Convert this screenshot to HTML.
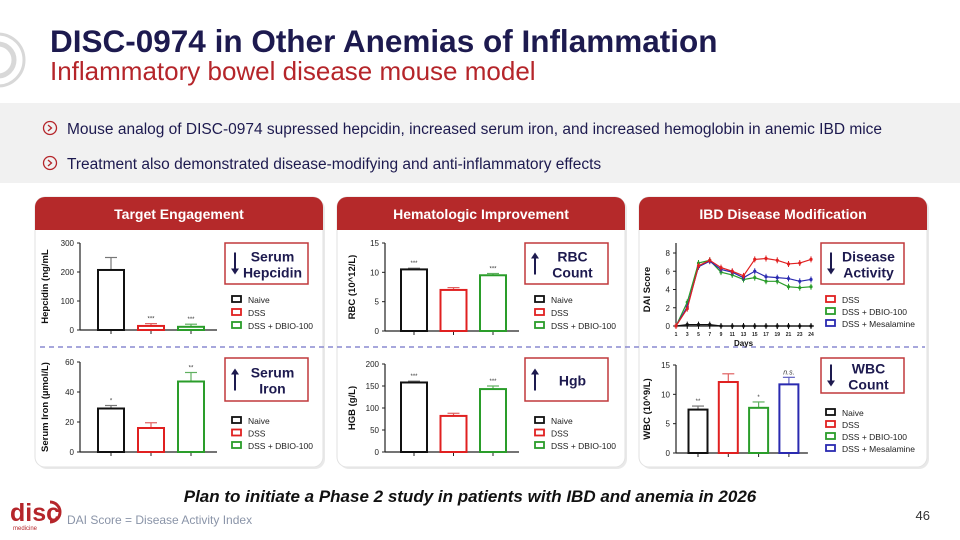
<!DOCTYPE html>
<html><head><meta charset="utf-8"><style>
html,body{margin:0;padding:0;background:#fff;}
svg{display:block;font-family:"Liberation Sans",Arial,sans-serif;}
</style></head><body>
<svg id="s" width="960" height="540" viewBox="0 0 960 540">
<g fill="none" stroke="#d8d8d8">
<circle cx="-2" cy="60" r="26" stroke-width="3"/><circle cx="-2" cy="60" r="16" stroke-width="5"/>
</g>
<text x="50" y="52" font-size="31.5" font-weight="bold" fill="#1d1a4f">DISC-0974 in Other Anemias of Inflammation</text>
<text x="50" y="80" font-size="26" fill="#b5252a">Inflammatory bowel disease mouse model</text>
<rect x="0" y="103" width="960" height="80" fill="#f1f1f1"/>
<g>
<circle cx="50" cy="128" r="6.5" fill="none" stroke="#b5252a" stroke-width="1.3"/><path d="M48 125 L51.5 128 L48 131" fill="none" stroke="#b5252a" stroke-width="1.3"/>
<text x="67" y="134" font-size="15.5" fill="#1d1a4f">Mouse analog of DISC-0974 supressed hepcidin, increased serum iron, and increased hemoglobin in anemic IBD mice</text></g>
<g>
<circle cx="50" cy="163" r="6.5" fill="none" stroke="#b5252a" stroke-width="1.3"/><path d="M48 160 L51.5 163 L48 166" fill="none" stroke="#b5252a" stroke-width="1.3"/>
<text x="67" y="169" font-size="15.5" fill="#1d1a4f">Treatment also demonstrated disease-modifying and anti-inflammatory effects</text></g>
<g id="cards"></g>
<g id="charts"></g>
<text x="470" y="502" font-size="17" font-weight="bold" font-style="italic" text-anchor="middle" fill="#111">Plan to initiate a Phase 2 study in patients with IBD and anemia in 2026</text>
<g>
<text x="10" y="521" font-size="25" font-weight="bold" fill="#b5252a">disc</text>
<path d="M50 502 A10 10 0 0 1 50 522" fill="none" stroke="#b5252a" stroke-width="3"/>
<text x="13" y="530" font-size="6" fill="#b5252a">medicine</text></g>
<text x="67" y="524" font-size="12" fill="#8a94a8">DAI Score = Disease Activity Index</text>
<text x="930" y="520" font-size="13" fill="#333" text-anchor="end">46</text>
</svg>
<script>
const NS="http://www.w3.org/2000/svg";
function mk(p,t,a,txt){const e=document.createElementNS(NS,t);for(const k in a)e.setAttribute(k,a[k]);if(txt!==undefined)e.textContent=txt;p.appendChild(e);return e;}
const cards=document.getElementById('cards'),charts=document.getElementById('charts');
const cardTitles=["Target Engagement","Hematologic Improvement","IBD Disease Modification"];
const cardX=[35,337,639];
// data arrays
const groups3=["Naive","DSS","DSS + DBIO-100"];
const groups4=["Naive","DSS","DSS + DBIO-100","DSS + Mesalamine"];
const hepcidin=[207,14,11], hepcidinErr=[250,22,20], hepcidinTicks=[0,100,200,300], hepcidinSig=["","***","***"];
const iron=[29,16,47], ironErr=[31,19.5,53], ironTicks=[0,20,40,60], ironSig=["*","","**"];
const rbc=[10.5,7.0,9.5], rbcErr=[10.7,7.4,9.8], rbcTicks=[0,5,10,15], rbcSig=["***","","***"];
const hgb=[158,82,143], hgbErr=[161,88,150], hgbTicks=[0,50,100,150,200], hgbSig=["***","","***"];
const wbc=[7.4,12.1,7.7,11.7], wbcErr=[8.0,13.5,8.7,12.9], wbcTicks=[0,5,10,15], wbcSig=["**","","*","n.s."];
const days=["1","3","5","7","9","11","13","15","17","19","21","23","24"];
const daiDSS=[0,1.9,6.6,7.2,6.4,6.0,5.5,7.3,7.4,7.2,6.8,6.9,7.3];
const daiDBIO=[0,2.6,6.9,7.2,5.9,5.6,5.1,5.3,4.9,4.9,4.3,4.2,4.3];
const daiMes=[0,2.1,6.5,7.1,6.2,5.9,5.3,6.0,5.4,5.3,5.2,4.9,5.1];
const daiNaive=[0,0.15,0.15,0.15,0,0,0,0,0,0,0,0,0];
const daiTicks=[0,2,4,6,8];
const colors=["#111","#e02020","#2a9d2a","#2a2ab0"];
const errColors=["#777","#e06060","#60b060","#6060c0"];

cardX.forEach((x,i)=>{
  const g=mk(cards,'g',{});
  mk(g,'rect',{x:x+2,y:199,width:288,height:270,rx:10,fill:'#e9e9e9'});
  mk(g,'rect',{x:x,y:197,width:288,height:270,rx:10,fill:'#fff',stroke:'#e2e2e2'});
  mk(g,'path',{d:`M${x} 230 V207 A10 10 0 0 1 ${x+10} 197 H${x+278} A10 10 0 0 1 ${x+288} 207 V230 Z`,fill:'#b5292a'});
  const t=mk(g,'text',{x:x+144,y:219,'font-size':14,'font-weight':'bold',fill:'#fff','text-anchor':'middle'},cardTitles[i]);
  
});
const dl=mk(charts,'line',{x1:40,x2:925,y1:347,y2:347,stroke:'#8a8ad0','stroke-width':1.5,'stroke-dasharray':'5 4'});


function yAxis(g,ax,y0,y1,ticks,title,tx,axTop){
  const max=ticks[ticks.length-1];const ys=v=>y0-(v/max)*(y0-y1);
  mk(g,'line',{x1:ax,x2:ax,y1:axTop!==undefined?axTop:y1,y2:y0,stroke:'#222','stroke-width':1.2});
  ticks.forEach(t=>{mk(g,'line',{x1:ax-3,x2:ax,y1:ys(t),y2:ys(t),stroke:'#222'});
    mk(g,'text',{x:ax-6,y:ys(t)+3,'font-size':8,'text-anchor':'end',fill:'#222'},t);});
  const tt=mk(g,'text',{x:tx,y:(y0+y1)/2,'font-size':9.5,'font-weight':'bold','text-anchor':'middle',fill:'#111',transform:`rotate(-90 ${tx} ${(y0+y1)/2})`},title);
  
  return ys;
}
function barChart(name,ax,y0,y1,ticks,vals,errs,sig,title,tx,first,step,bw){
  const g=mk(charts,'g',{});
  const ys=yAxis(g,ax,y0,y1,ticks,title,tx);
  mk(g,'line',{x1:ax,x2:first+step*(vals.length-1)+bw,y1:y0,y2:y0,stroke:'#222','stroke-width':1.2});
  vals.forEach((v,i)=>{const cx=first+step*i,c=colors[i],ec=errColors[i];
    mk(g,'line',{x1:cx,x2:cx,y1:y0,y2:y0+4,stroke:'#222'});
    mk(g,'line',{x1:cx,x2:cx,y1:ys(errs[i]),y2:ys(v),stroke:ec,'stroke-width':1.2});
    mk(g,'line',{x1:cx-6,x2:cx+6,y1:ys(errs[i]),y2:ys(errs[i]),stroke:ec,'stroke-width':1.2});
    const r=mk(g,'rect',{x:cx-bw/2,y:ys(v),width:bw,height:y0-ys(v),fill:'#fff',stroke:c,'stroke-width':2});
    
    if(sig[i])mk(g,'text',{x:cx,y:ys(errs[i])-3,'font-size':sig[i]=="n.s."?7:6,'font-style':sig[i]=="n.s."?'italic':'normal','text-anchor':'middle',fill:'#333'},sig[i]);
  });
}
function legend(x,y,names,dy){
  const g=mk(charts,'g',{});
  names.forEach((n,i)=>{const c=n=="DSS"?colors[1]:n=="Naive"?colors[0]:n=="DSS + DBIO-100"?colors[2]:colors[3];
    const e=mk(g,'g',{});
    mk(e,'rect',{x:x,y:y+i*dy-4,width:9,height:6,fill:'#fff',stroke:c,'stroke-width':1.8});
    mk(e,'text',{x:x+16,y:y+i*dy+3,'font-size':8.5,fill:'#222'},n);});
}
function callout(x,y,w,h,up,lines,name){
  const g=mk(charts,'g',{});
  mk(g,'rect',{x:x,y:y,width:w,height:h,fill:'#fff',stroke:'#c0393b','stroke-width':1.5});
  const ax=x+10, top=y+h/2-11, bot=y+h/2+11;
  if(up){mk(g,'line',{x1:ax,x2:ax,y1:bot,y2:top+5,stroke:'#1d1a4f','stroke-width':2});mk(g,'path',{d:`M${ax-4} ${top+6} L${ax} ${top} L${ax+4} ${top+6}Z`,fill:'#1d1a4f'});}
  else{mk(g,'line',{x1:ax,x2:ax,y1:top,y2:bot-5,stroke:'#1d1a4f','stroke-width':2});mk(g,'path',{d:`M${ax-4} ${bot-6} L${ax} ${bot} L${ax+4} ${bot-6}Z`,fill:'#1d1a4f'});}
  const n=lines.length;lines.forEach((l,i)=>mk(g,'text',{x:x+w/2+6,y:y+h/2+6+(i-(n-1)/2)*16,'font-size':14,'font-weight':'bold','text-anchor':'middle',fill:'#1d1a4f'},l));
}
// panel 1
barChart('hepcidin-chart',80,330,243,hepcidinTicks,hepcidin,hepcidinErr,hepcidinSig,'Hepcidin (ng/mL',48,111,40,26);
barChart('serum-iron-chart',80,452,362,ironTicks,iron,ironErr,ironSig,'Serum Iron (µmol/L)',48,111,40,26);
callout(225,243,83,41,false,["Serum","Hepcidin"],'callout-hepcidin');
callout(225,358,83,43,true,["Serum","Iron"],'callout-iron');
legend(232,300,groups3,13);legend(232,421,groups3,12.5);
// panel 2
barChart('rbc-chart',385,331,243,rbcTicks,rbc,rbcErr,rbcSig,'RBC (10^12/L)',355,414,39.5,26);
barChart('hgb-chart',385,452,364,hgbTicks,hgb,hgbErr,hgbSig,'HGB (g/L)',355,414,39.5,26);
callout(525,243,83,41,true,["RBC","Count"],'callout-rbc');
callout(525,358,83,43,true,["Hgb"],'callout-hgb');
legend(535,300,groups3,13);legend(535,421,groups3,12.5);
// panel 3 line chart
(function(){
  const g=mk(charts,'g',{});
  const ax=676,y0=326,x1=811;
  const yt=yAxis(g,ax,y0,253,daiTicks,'DAI Score',650,243);
  const xs=i=>ax+i*(x1-ax)/(days.length-1);
  mk(g,'line',{x1:ax,x2:x1+3,y1:y0,y2:y0,stroke:'#222','stroke-width':1.2});
  days.forEach((d,i)=>{mk(g,'line',{x1:xs(i),x2:xs(i),y1:y0,y2:y0+3,stroke:'#222'});mk(g,'text',{x:xs(i),y:y0+10,'font-size':5,'font-weight':'bold','text-anchor':'middle',fill:'#222'},d);});
  mk(g,'text',{x:(ax+x1)/2,y:y0+20,'font-size':8,'font-weight':'bold','text-anchor':'middle',fill:'#111'},'Days');
  [[daiNaive,0],[daiDBIO,2],[daiMes,3],[daiDSS,1]].forEach(([arr,ci])=>{
    const s=mk(g,'g',{});
    mk(s,'polyline',{points:arr.map((v,i)=>xs(i)+','+yt(v)).join(' '),fill:'none',stroke:colors[ci],'stroke-width':1.2});
    arr.forEach((v,i)=>{mk(s,'line',{x1:xs(i),x2:xs(i),y1:yt(v)-3,y2:yt(v)+3,stroke:colors[ci]});mk(s,'circle',{cx:xs(i),cy:yt(v),r:1.6,fill:colors[ci]});});
  });
})();
barChart('wbc-chart',676,453,365,wbcTicks,wbc,wbcErr,wbcSig,'WBC (10^9/L)',650,698,30.3,19);
callout(821,243,83,41,false,["Disease","Activity"],'callout-disease');
callout(821,358,83,35,false,["WBC","Count"],'callout-wbc');
legend(826,300,["DSS","DSS + DBIO-100","DSS + Mesalamine"],12);legend(826,413,groups4,12);
</script>
</body></html>
